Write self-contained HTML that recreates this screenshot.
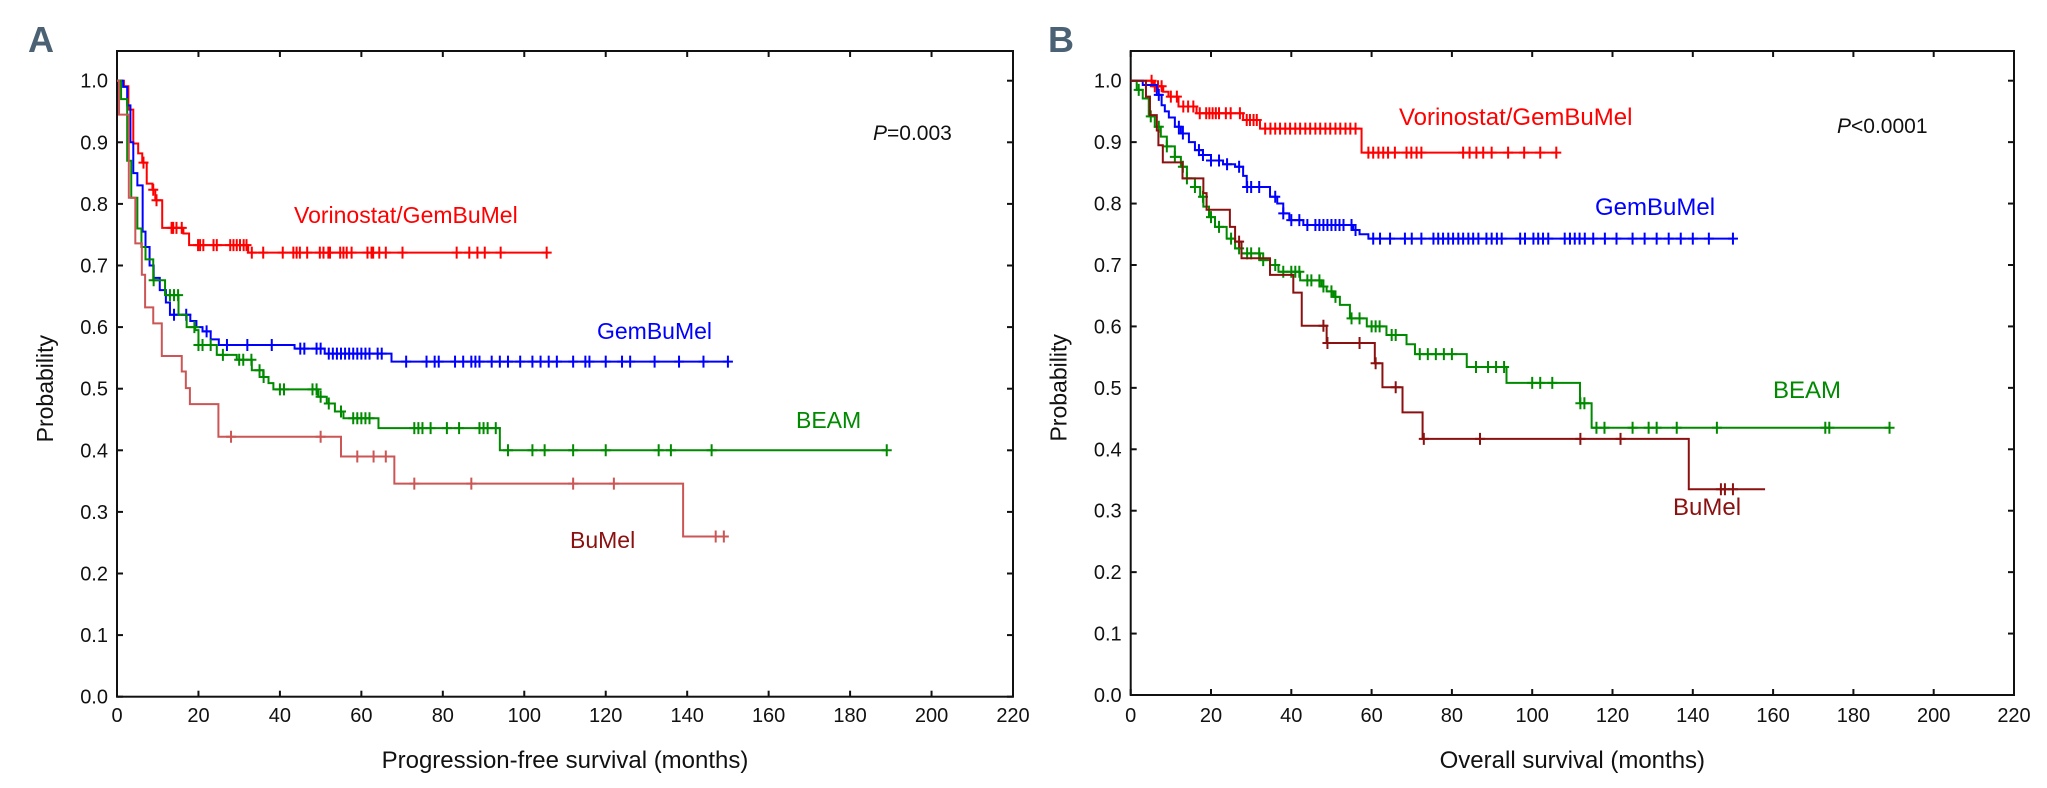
<!DOCTYPE html>
<html><head><meta charset="utf-8">
<style>
html,body{margin:0;padding:0;background:#fff;}
svg{display:block;font-family:"Liberation Sans",Arial,sans-serif;}
</style></head>
<body>
<svg id="chart" width="2047" height="788" viewBox="0 0 2047 788" xmlns="http://www.w3.org/2000/svg"></svg>
<script>
// ---------- Panel A data (progression-free survival) ----------
const xTicks = [0,20,40,60,80,100,120,140,160,180,200,220];
const yTicks = [0,0.1,0.2,0.3,0.4,0.5,0.6,0.7,0.8,0.9,1.0];

const aVorT = [0,1.7,2.8,4,5.2,6.2,7.3,8.7,9.4,11.1,16.3,17.7,32.2];
const aVorS = [1,0.991,0.953,0.898,0.882,0.867,0.833,0.823,0.806,0.761,0.752,0.733,0.721];
const aVorEnd = 106;
const aVorC = [6.5,8.9,9.7,13.4,13.8,14.6,15.9,19.9,20.4,21.2,23.7,24.5,27.8,28.6,29.4,30.2,31.1,31.8,33.1,35.9,40.7,43.3,44.1,44.9,46.7,49.8,50.7,51.9,52.3,54.8,55.6,56.4,57.6,61.5,62.5,62.9,64.4,66,70.1,83.4,86.5,88.5,90.3,94.2,105.5];

const aGemT = [0,1.5,2.5,3.3,4,5,6.3,7,8,9,10.5,12,13,18,19.5,21,23,25,43.6,51,67.4];
const aGemS = [1,0.99,0.96,0.9,0.85,0.83,0.755,0.73,0.7,0.68,0.66,0.64,0.62,0.61,0.6,0.593,0.58,0.571,0.565,0.557,0.544];
const aGemEnd = 150;
const aGemC = [14,17,22,27,32,38,45,46,49,50,52,53,54,55,56,57,58,59,60,61,62,64,65,71,76,78,79,83,85,87,88,89,92,94,96,99,102,104,106,108,112,115,116,120,124,126,132,138,144,150];

const aBeamT = [0,1,2.5,3.5,5,6,7,8.9,11.8,15.1,17.1,19.2,20,24.5,29.4,33.1,35.9,37.2,38.4,49.4,51.5,53.5,55.6,64.2,94.0];
const aBeamS = [1,0.97,0.87,0.81,0.76,0.73,0.71,0.676,0.652,0.62,0.6,0.595,0.571,0.555,0.547,0.53,0.519,0.509,0.499,0.487,0.476,0.463,0.452,0.436,0.4];
const aBeamEnd = 189;
const aBeamC = [9,13,14,15,19,20,21,23,26,30,31,33,35,36,40,41,48,49,50,52,55,58,59,60,61,62,73,74,75,77,81,84,89,90,91,93,96,102,105,112,120,133,136,146,189];

const aBuT = [0,0.5,2.9,4.5,6.1,6.9,8.9,11,15.9,16.9,17.9,24.9,55,68.1,139];
const aBuS = [1,0.945,0.81,0.736,0.685,0.632,0.606,0.553,0.528,0.501,0.475,0.422,0.39,0.346,0.26];
const aBuEnd = 150;
const aBuC = [28,50,59,63,66,73,87,112,122,147,149];

// ---------- Panel B data (overall survival) ----------
const bVorT = [0,5.6,8.1,9.4,11.9,16.4,28,32.2,57.5];
const bVorS = [1,0.991,0.982,0.974,0.958,0.947,0.936,0.922,0.883];
const bVorEnd = 106;
const bVorC = [5.2,6,6.8,7.7,10,11.5,13.1,14.3,15.6,17.2,18.8,19.6,20.4,21.2,22,23.7,24.9,27.2,28.9,29.7,30.6,31.4,33.5,34.8,36,37.2,38.5,39.7,41,42.2,43.5,44.7,46,47.2,48.5,49.7,51,52.2,53.5,54.7,56,59.2,60.4,61.7,62.9,64.1,65.8,68.7,69.9,71.2,72.4,82.8,84.4,86.1,87.8,89.9,94,98,102,106];

const bGemT = [0,3,6.5,7.7,8.5,9.5,11,12.5,14.5,16,18,20,23,26,28,28.9,34.7,36.5,38,39.5,43,55.4,57,59.2];
const bGemS = [1,0.993,0.977,0.96,0.95,0.94,0.925,0.914,0.9,0.887,0.879,0.87,0.864,0.86,0.845,0.827,0.811,0.8,0.784,0.773,0.765,0.757,0.75,0.743];
const bGemEnd = 150;
const bGemC = [7,12,13,17,18,20,22,24,27,29,30,32,36,38,40,42,44,46,47,48,49,50,51,52,53,55,56,60.4,62.1,64.6,68.3,70,72.4,75.4,76.6,77.8,79.1,80.3,81.6,82.8,84.1,85.3,86.6,88.6,89.9,91.2,92.4,97,98.2,100.3,101.5,102.7,104,108.1,109.4,110.6,111.8,113.1,115.2,118.1,121,125,128,131,134,137,140,144,150];

const bBeamT = [0,1.5,3,4.5,6,7.5,9,11,12.5,14,16,17.3,18.1,19.5,21,23.9,26,27.6,32.2,34.7,36.8,42.2,47.5,48.8,50.5,52.1,54.6,58.8,63.7,68.7,70.8,83.7,93.6,111.9,114.8];
const bBeamS = [1,0.985,0.971,0.942,0.925,0.909,0.893,0.876,0.86,0.841,0.827,0.811,0.795,0.778,0.762,0.743,0.727,0.719,0.708,0.7,0.689,0.675,0.665,0.657,0.648,0.635,0.613,0.6,0.586,0.571,0.555,0.534,0.508,0.475,0.435];
const bBeamEnd = 189;
const bBeamC = [2,5,7,9,11,13,14,16,18,20,22,25,27,29,30,32,33,36,38,40,41,42,44,45,47,48,50,51,55,57,60,61,62,65,66,72,74,76,78,80,86,89,91,93,100,102,105,112,113,116,118,125,129,131,136,146,173,174,189];

const bBuT = [0,3.8,4.8,6.5,6.9,8,12.9,18.1,18.9,24.7,26,27.6,34.7,40.5,42.6,48.8,60.8,62.7,67.7,72.7,139];
const bBuS = [1,0.974,0.944,0.919,0.895,0.867,0.841,0.817,0.79,0.762,0.738,0.711,0.684,0.655,0.601,0.573,0.54,0.501,0.46,0.417,0.335];
const bBuEnd = 158;
const bBuC = [27,48,49,57,61,66,73,87,112,122,147,148,150];

const NS = "http://www.w3.org/2000/svg";
const svg = document.getElementById('chart');
function mk(tag, attrs, parent){
  const e = document.createElementNS(NS, tag);
  for (const k in attrs) e.setAttribute(k, attrs[k]);
  (parent||svg).appendChild(e);
  return e;
}

function panel(cfg){
  const g = mk('g', {});
  
  
  const X = t => cfg.x0 + t*(cfg.x1-cfg.x0)/220;
  const Y = p => cfg.y0 - p*(cfg.y0-cfg.y1);
  const top = 51;
  const frame = mk('rect', {x:cfg.x0, y:top, width:cfg.x1-cfg.x0, height:cfg.y0-top, fill:'none', stroke:'#111', 'stroke-width':2}, g);
  
  
  xTicks.forEach(v=>{
    const x = X(v);
    mk('line',{x1:x,y1:cfg.y0,x2:x,y2:cfg.y0-6,stroke:'#111','stroke-width':2},g);
    mk('line',{x1:x,y1:top,x2:x,y2:top+6,stroke:'#111','stroke-width':2},g);
    const t = mk('text',{x:x,y:722,'font-size':cfg.tickFs,'text-anchor':'middle',fill:'#111'},g);
    t.textContent = v;
    
    
  });
  yTicks.forEach(v=>{
    const y = Y(v);
    mk('line',{x1:cfg.x0,y1:y,x2:cfg.x0+6,y2:y,stroke:'#111','stroke-width':2},g);
    mk('line',{x1:cfg.x1,y1:y,x2:cfg.x1-6,y2:y,stroke:'#111','stroke-width':2},g);
    const t = mk('text',{x:cfg.x0-9,y:y+7,'font-size':cfg.tickFs,'text-anchor':'end',fill:'#111'},g);
    t.textContent = v.toFixed(1);
    
    
  });
  const xt = mk('text',{x:(cfg.x0+cfg.x1)/2,y:768,'font-size':24,'text-anchor':'middle',fill:'#111'},g);
  xt.textContent = cfg.xTitle;
  
  
  const yt = mk('text',{x:0,y:0,'font-size':23,'text-anchor':'middle',fill:'#111',transform:`translate(${cfg.x0-64},${Y(0.5)}) rotate(-90)`},g);
  yt.textContent = 'Probability';
  
  
  const pl = mk('text',{x:cfg.letterX,y:52,'font-size':36,'font-weight':'bold',fill:'#4a6274'},g);
  pl.textContent = cfg.letter;
  
  
  cfg.series.forEach(s=>{
    let d = `M${X(s.t[0])},${Y(s.s[0])}`;
    for (let i=1;i<s.t.length;i++){
      d += ` H${X(s.t[i])} V${Y(s.s[i])}`;
    }
    d += ` H${X(s.end)}`;
    const p = mk('path',{d:d,fill:'none',stroke:s.color,'stroke-width':2},g);
    
    
    s.c.forEach(ct=>{
      let sv = s.s[0];
      for (let i=0;i<s.t.length;i++) if (s.t[i] <= ct) sv = s.s[i];
      const cx = X(ct), cy = Y(sv);
      const m = mk('path',{d:`M${cx},${cy-6} V${cy+6} M${cx-5},${cy} H${cx+5}`,stroke:s.color,'stroke-width':2},g);
      
      
    });
  });
  cfg.labels.forEach(l=>{
    const t = mk('text',{x:l.x,y:l.y,'font-size':l.fs,fill:l.color},g);
    if (l.italicP){
      const ts = mk('tspan',{'font-style':'italic'},t); ts.textContent='P';
      const ts2 = mk('tspan',{},t); ts2.textContent=l.text;
    } else t.textContent = l.text;
    
    
  });
}

panel({name:'panel-a-pfs', letter:'A', letterX:28, x0:117, x1:1013, y0:696.7, y1:80.7, tickFs:20,
  xTitle:'Progression-free survival (months)',
  series:[
    {name:'vorinostat-gembumel', t:aVorT, s:aVorS, end:aVorEnd, c:aVorC, color:'#ff0000'},
    {name:'gembumel', t:aGemT, s:aGemS, end:aGemEnd, c:aGemC, color:'#0000ff'},
    {name:'beam', t:aBeamT, s:aBeamS, end:aBeamEnd, c:aBeamC, color:'#008a00'},
    {name:'bumel', t:aBuT, s:aBuS, end:aBuEnd, c:aBuC, color:'#cc5555'}
  ],
  labels:[
    {name:'label-vorinostat-gembumel', text:'Vorinostat/GemBuMel', x:294, y:223, fs:23, color:'#ff0000'},
    {name:'label-gembumel', text:'GemBuMel', x:597, y:339, fs:23, color:'#0000ff'},
    {name:'label-beam', text:'BEAM', x:796, y:428, fs:23, color:'#008a00'},
    {name:'label-bumel', text:'BuMel', x:570, y:548, fs:23, color:'#8b1010'},
    {name:'p-value', text:'=0.003', x:873, y:140, fs:21, color:'#111', italicP:true}
  ]
});
panel({name:'panel-b-os', letter:'B', letterX:1048, x0:1130.7, x1:2014, y0:695, y1:80.7, tickFs:20,
  xTitle:'Overall survival (months)',
  series:[
    {name:'vorinostat-gembumel', t:bVorT, s:bVorS, end:bVorEnd, c:bVorC, color:'#ff0000'},
    {name:'gembumel', t:bGemT, s:bGemS, end:bGemEnd, c:bGemC, color:'#0000ff'},
    {name:'beam', t:bBeamT, s:bBeamS, end:bBeamEnd, c:bBeamC, color:'#008a00'},
    {name:'bumel', t:bBuT, s:bBuS, end:bBuEnd, c:bBuC, color:'#8b1010'}
  ],
  labels:[
    {name:'label-vorinostat-gembumel', text:'Vorinostat/GemBuMel', x:1399, y:125, fs:24, color:'#ff0000'},
    {name:'label-gembumel', text:'GemBuMel', x:1595, y:215, fs:24, color:'#0000ff'},
    {name:'label-beam', text:'BEAM', x:1773, y:398, fs:24, color:'#008a00'},
    {name:'label-bumel', text:'BuMel', x:1673, y:515, fs:24, color:'#8b1010'},
    {name:'p-value', text:'<0.0001', x:1837, y:133, fs:21, color:'#111', italicP:true}
  ]
});
</script>
</body></html>
